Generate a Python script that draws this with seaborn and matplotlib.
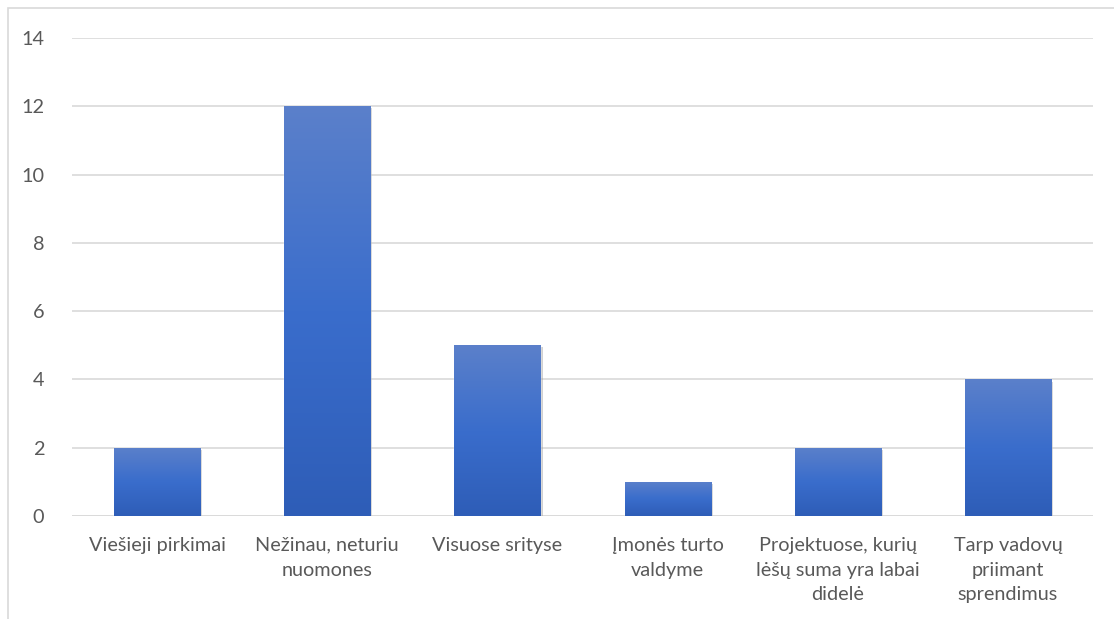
import matplotlib
matplotlib.use("Agg")
import matplotlib.pyplot as plt
import matplotlib.patheffects as pe
from matplotlib.colors import LinearSegmentedColormap
from matplotlib.patches import Rectangle
import numpy as np
import pandas as pd
import seaborn as sns

categories = [
    "Viešieji pirkimai",
    "Nežinau, neturiu\nnuomones",
    "Visuose srityse",
    "Įmonės turto\nvaldyme",
    "Projektuose, kurių\nlėšų suma yra labai\ndidelė",
    "Tarp vadovų\npriimant\nsprendimus",
]
counts = [2, 12, 5, 1, 2, 4]
y_ticks = [0, 2, 4, 6, 8, 10, 12, 14]

sns.set_theme(style="white")
plt.rcParams["font.family"] = ["Lato", "DejaVu Sans"]

df = pd.DataFrame({"category": categories, "count": counts})

W, H = 1114, 619
fig = plt.figure(figsize=(W / 100, H / 100), dpi=100)
ax = fig.add_axes([72 / W, 1 - 516 / H, (1093 - 72) / W, (516 - 38) / H])

sns.barplot(data=df, x="category", y="count", color="#4472C4", width=0.506, ax=ax, zorder=3)

# vertical gradient fill clipped to each bar, plus a soft shadow
grad = LinearSegmentedColormap.from_list("office_blue", ["#2E5DB7", "#3A6DCC", "#5B80CA"])
gradient = np.linspace(0, 1, 256).reshape(-1, 1)
for bar in ax.patches:
    x0, y0 = bar.get_x(), bar.get_y()
    w, h = bar.get_width(), bar.get_height()
    bar.set_path_effects([pe.SimplePatchShadow(offset=(1.5, -1.5), shadow_rgbFace="#9a9a9a", alpha=0.45), pe.Normal()])
    im = ax.imshow(gradient, cmap=grad, origin="lower", aspect="auto",
                   extent=(x0, x0 + w, y0, y0 + h), zorder=4)
    im.set_clip_path(bar)

ax.set_xlim(-0.5, len(categories) - 0.5)
ax.set_ylim(0, 14)
ax.set_yticks(y_ticks)
ax.yaxis.grid(True, color="#D9D9D9", linewidth=1.2, zorder=0)
ax.set_axisbelow(True)
for side in ["top", "right", "left", "bottom"]:
    ax.spines[side].set_visible(False)
ax.axhline(0, color="#D9D9D9", linewidth=1.2, zorder=2)

ax.set_xlabel("")
ax.set_ylabel("")
ax.tick_params(axis="x", length=0, pad=15, labelsize=14.3, labelcolor="#595959")
ax.tick_params(axis="y", length=0, pad=20, labelsize=14.3, labelcolor="#595959")
for lbl in ax.get_xticklabels():
    lbl.set_linespacing(1.55)
    lbl.set_horizontalalignment("center")

# chart area border (partly cropped in the original)
fig.patches.append(Rectangle((7.5 / W, -0.05), 1.2, 1 - 8 / H + 0.05, transform=fig.transFigure,
                             fill=False, edgecolor="#D9D9D9", linewidth=1.2))

fig.savefig("out.png", dpi=100)
